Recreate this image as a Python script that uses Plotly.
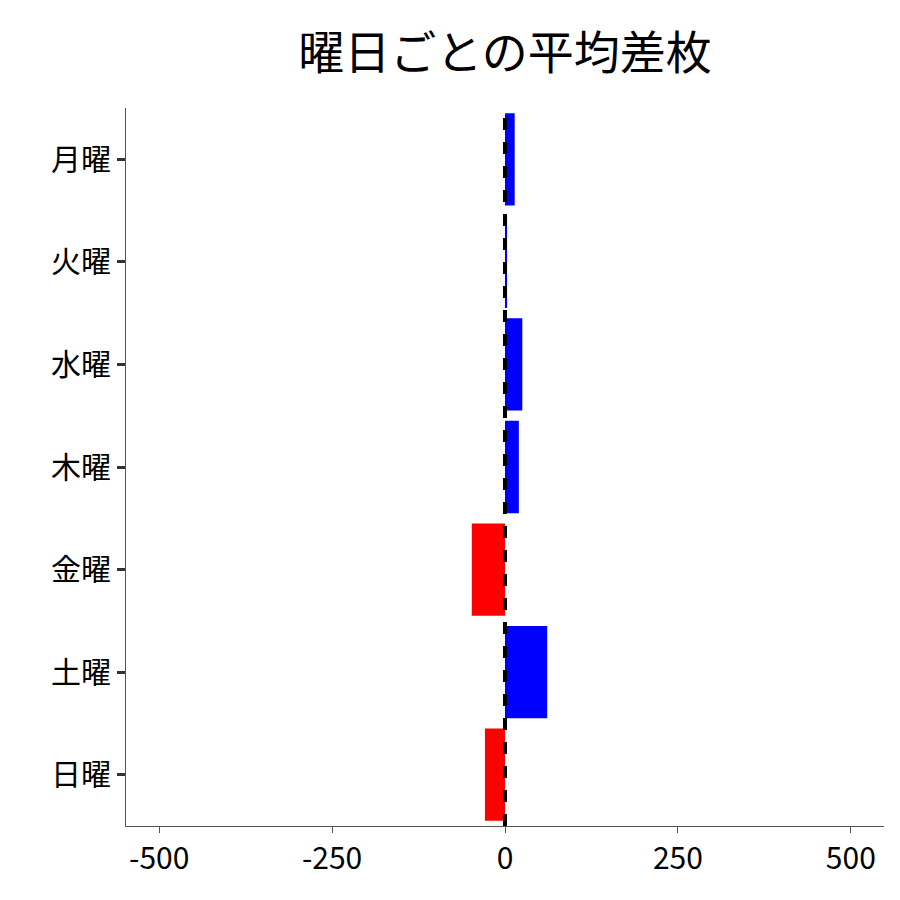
import plotly.graph_objects as go

days = ["月曜", "火曜", "水曜", "木曜", "金曜", "土曜", "日曜"]
avg_diff = [14, 3, 25, 20, -48, 61, -29]
x_ticks = [-500, -250, 0, 250, 500]
x_labels = ["-500", "-250", "0", "250", "500"]

colors = ["blue" if v >= 0 else "red" for v in avg_diff]

fig = go.Figure()
fig.add_trace(go.Bar(x=avg_diff, y=days, orientation="h", marker_color=colors,
                     marker_line_width=0, width=0.9))
fig.add_vline(x=0, line_dash="dash", line_color="black", line_width=4)

font = "Noto Sans CJK JP"
fig.update_layout(
    width=900, height=900,
    plot_bgcolor="white", paper_bgcolor="white",
    margin=dict(l=118, r=24, t=100, b=82, autoexpand=False),
    showlegend=False,
    title=dict(text="曜日ごとの平均差枚", xref="paper", x=0.5, xanchor="center",
               yref="container", y=0.95, yanchor="middle", automargin=False,
               font=dict(family=font, size=46, color="black")),
    font=dict(family=font, size=30, color="black"),
)
fig.update_xaxes(range=[-548, 548], tickvals=x_ticks, ticktext=x_labels,
                 showgrid=False, zeroline=False, automargin=False,
                 showline=True, linecolor="#555", linewidth=1,
                 ticks="outside", ticklen=6, tickcolor="#555")
fig.update_yaxes(categoryorder="array", categoryarray=days[::-1], showgrid=False,
                 automargin=False,
                 showline=True, linecolor="#555", linewidth=1,
                 ticks="outside", ticklen=8, tickwidth=3, tickcolor="#333")

fig.write_html("out.html")
